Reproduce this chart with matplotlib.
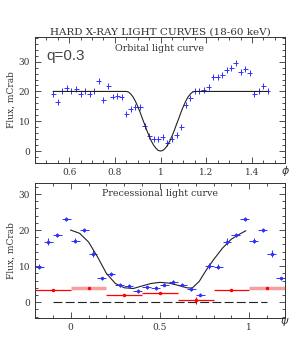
import numpy as np
import matplotlib
matplotlib.use('Agg')
import matplotlib.pyplot as plt
from matplotlib.ticker import MultipleLocator

plt.rcParams['font.family'] = 'DejaVu Serif'

# orbital light curve (phi, flux)
phi = np.arange(0.53, 1.48, 0.02)
orb_flux = [19.0, 16.3, 20.2, 21.1, 20.2, 20.8, 19.0, 20.3, 19.2, 20.3,
            23.5, 17.1, 21.8, 18.3, 18.6, 18.0, 12.3, 14.1, 14.7, 14.9,
            8.5, 5.2, 4.0, 4.0, 4.7, 2.8, 3.9, 5.4, 8.2, 15.5,
            17.9, 20.2, 20.2, 20.5, 21.6, 25.0, 25.0, 25.5, 27.2, 28.0,
            29.5, 26.5, 27.4, 26.1, 19.0, 20.2, 21.8, 20.0]
orb_err = 1.0

# orbital model: eclipse profile
orb_model_x = [0.53, 0.85, 0.86, 0.87, 0.88, 0.89, 0.90, 0.91, 0.92, 0.93, 0.94,
               0.95, 0.96, 0.97, 0.98, 0.99, 1.00, 1.01, 1.02, 1.03, 1.04,
               1.05, 1.06, 1.07, 1.08, 1.09, 1.10, 1.11, 1.12, 1.13, 1.14,
               1.15, 1.47]
orb_model_y = [20.0, 20.0, 19.8, 19.1, 18.1, 16.7, 15.0, 13.1, 11.0, 9.0, 6.9,
               5.0, 3.3, 1.9, 0.9, 0.2, 0.0, 0.2, 0.9, 1.9, 3.3,
               5.0, 6.9, 9.0, 11.0, 13.1, 15.0, 16.7, 18.1, 19.1, 19.8,
               20.0, 20.0]

# precessional light curve, 20 phase bins
psi = np.arange(0.025, 1.0, 0.05)
prec_flux = [17.1, 20.1, 13.4, 6.6, 7.9, 4.8, 4.6, 3.1, 4.1, 3.9,
             4.9, 5.6, 4.9, 3.6, 2.1, 10.1, 9.8, 16.8, 18.7, 23.1]
prec_err = [0.6, 0.5, 1.0, 0.5, 0.6, 0.5, 0.5, 0.5, 0.5, 0.5,
            0.5, 0.5, 0.5, 0.5, 0.5, 0.9, 0.7, 1.0, 0.6, 0.5]

# coarse bins (red)
psi_c = [0.1, 0.3, 0.5, 0.7, 0.9]
coarse_flux = [4.0, 2.1, 2.5, 0.5, 3.3]
coarse_err = [0.3, 0.2, 0.3, 1.0, 0.2]
coarse_col = ['#f4a0a0', 'red', 'red', 'red', 'red']

# precessional model
prec_model_x = [0.00, 0.05, 0.10, 0.15, 0.20, 0.25, 0.30, 0.35, 0.40, 0.45,
                0.50, 0.55, 0.60, 0.65, 0.68, 0.72, 0.76, 0.80, 0.85, 0.90,
                0.95, 0.98]
prec_model_y = [20.0, 19.1, 16.7, 12.6, 8.0, 5.2, 4.0, 3.8, 4.5, 5.2,
                5.5, 5.3, 4.7, 4.0, 3.9, 5.8, 9.0, 11.8, 15.0, 17.5,
                19.0, 19.8]

blue = '#3030ff'
ink = '#333333'

fig = plt.figure(figsize=(2.96, 3.55), dpi=100)
ax1 = fig.add_axes([0.118, 0.541, 0.845, 0.355])
ax2 = fig.add_axes([0.118, 0.104, 0.845, 0.380])

for ax in (ax1, ax2):
    ax.tick_params(which='both', direction='in', top=True, right=True,
                   labelsize=6.5, colors=ink, labelcolor=ink, width=0.6)
    ax.tick_params(which='major', length=4)
    ax.tick_params(which='minor', length=2)
    for s in ax.spines.values():
        s.set_linewidth(0.7)
        s.set_color(ink)
    ax.set_ylabel('Flux, mCrab', fontsize=6.5, color=ink, labelpad=2)

# top panel
ax1.errorbar(phi, orb_flux, xerr=0.011, yerr=orb_err, fmt='none',
             ecolor=blue, elinewidth=0.7)
ax1.plot(orb_model_x, orb_model_y, color='#222222', lw=0.8)
ax1.set_xlim(0.45, 1.545)
ax1.set_ylim(-4, 38.3)
ax1.xaxis.set_major_locator(MultipleLocator(0.2))
ax1.xaxis.set_minor_locator(MultipleLocator(0.05))
ax1.yaxis.set_major_locator(MultipleLocator(10))
ax1.yaxis.set_minor_locator(MultipleLocator(2))
ax1.set_xticks([0.6, 0.8, 1.0, 1.2, 1.4])
ax1.set_xticklabels(['0.6', '0.8', '1', '1.2', '1.4'])
ax1.set_title('HARD X-RAY LIGHT CURVES (18-60 keV)', fontsize=7.5,
              color=ink, pad=1)
ax1.text(0.5, 0.905, 'Orbital light curve', transform=ax1.transAxes,
         ha='center', va='center', fontsize=6.8, color=ink)
ax1.text(0.045, 0.85, 'q=0.3', transform=ax1.transAxes, ha='left',
         va='center', fontsize=11, color='#444444', family='Liberation Sans')
ax1.text(1.0, -0.065, r'$\phi$', transform=ax1.transAxes, ha='center',
         va='center', fontsize=8, color=ink)

# bottom panel
xs, ys, es = [], [], []
for shift in (-1, 0, 1):
    for x, y, e in zip(psi, prec_flux, prec_err):
        if -0.2 < x + shift < 1.2:
            xs.append(x + shift)
            ys.append(y)
            es.append(e)
ax2.errorbar(xs, ys, xerr=0.025, yerr=es, fmt='o', ms=1.5, color=blue,
             ecolor=blue, elinewidth=0.7)

for shift in (-1, 0, 1):
    for x, y, e, c in zip(psi_c, coarse_flux, coarse_err, coarse_col):
        xc = x + shift
        if -0.2 < xc < 1.2:
            lw = 2.5 if c != 'red' else 0.9
            ax2.errorbar([xc], [y], xerr=0.1, fmt='none', ecolor=c,
                         elinewidth=lw)
            ax2.errorbar([xc], [y], yerr=e, fmt='o', ms=1.5, color='red',
                         ecolor='red', elinewidth=0.8)

ax2.plot(prec_model_x, prec_model_y, color='#222222', lw=0.8)
ax2.plot([-0.1, 1.1], [0, 0], color='#222222', lw=0.8, dashes=(8, 3))
ax2.set_xlim(-0.2, 1.2)
ax2.set_ylim(-4.4, 33)
ax2.xaxis.set_major_locator(MultipleLocator(0.5))
ax2.xaxis.set_minor_locator(MultipleLocator(0.1))
ax2.yaxis.set_major_locator(MultipleLocator(10))
ax2.yaxis.set_minor_locator(MultipleLocator(2))
ax2.set_xticks([0, 0.5, 1])
ax2.set_xticklabels(['0', '0.5', '1'])
ax2.text(0.5, 0.92, 'Precessional light curve', transform=ax2.transAxes,
         ha='center', va='center', fontsize=6.8, color=ink)
ax2.text(1.0, -0.03, r'$\psi$', transform=ax2.transAxes, ha='center',
         va='center', fontsize=8, color=ink)

fig.savefig('out.png', dpi=100)
